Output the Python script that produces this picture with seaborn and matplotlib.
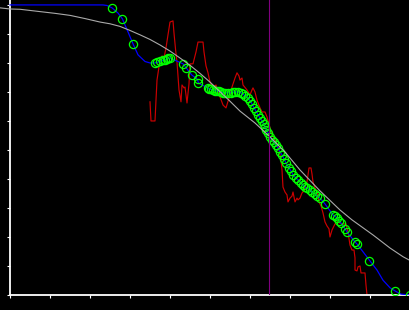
import matplotlib
matplotlib.use("Agg")
import matplotlib.pyplot as plt
import seaborn as sns

# ---- data (x in 0..100, y in percent) ----
gray_x = [-2.5, 0, 2.5, 7.5, 11.25, 15, 18.75, 22.5, 25, 27.5, 30, 32.5, 35, 37.5,
          40, 42.5, 45, 47.5, 50, 52.5, 55, 57.5, 61.25,
          65, 68.75, 72.5, 77.5, 82.5, 85.5, 90.75, 95, 98.25, 100]
gray_y = [99.0, 98.6, 98.5, 97.7, 97.1, 96.4, 95.3, 94.1, 93.5, 92.6, 91.2, 89.7, 88.1, 86.2,
          84.1, 81.7, 79.2, 76.4, 73.4, 70.1, 66.8, 63.4, 59.3,
          54.5, 49.3, 43.1, 35.9, 29.3, 25.9, 20.7, 16.2, 13.2, 11.9]

pt_x = [25.5, 28.1, 30.75, 36.25, 36.75, 37.5, 38.25, 38.75, 39.25, 39.6, 40.0,
        43.25, 44.0, 45.4, 46.9, 47.1, 49.4, 49.75, 50.25, 50.75, 51.25, 51.75,
        52.25, 52.75, 53.25, 53.75, 54.5, 55.25, 55.75, 56.25, 57.0, 57.75, 58.25,
        58.75, 59.5, 60.0, 60.5, 61.0, 61.5, 62.0, 62.5, 63.0, 63.4, 63.75, 64.1,
        64.5, 65.0, 65.5, 66.0, 66.5, 67.0, 67.5, 68.0, 68.5, 69.0, 69.75, 70.25,
        70.75, 71.5, 72.0, 72.75, 73.25, 73.75, 74.25, 75.0, 75.5, 76.25, 76.75,
        77.5, 78.75, 80.75, 81.25, 81.75, 82.25, 82.75, 83.75, 84.25, 86.25, 86.75,
        89.75, 96.25, 100.0]
pt_y = [99.0, 95.2, 86.6, 80.0, 80.2, 80.5, 80.9, 81.0, 81.4, 81.6, 81.7,
        79.7, 78.4, 75.9, 74.3, 73.1, 71.4, 71.0, 70.9, 70.7, 70.5, 70.3,
        70.2, 70.0, 69.8, 69.7, 69.7, 69.8, 70.0, 70.0, 70.0, 69.7, 69.3,
        68.6, 67.9, 66.9, 65.9, 64.5, 63.4, 62.1, 61.0, 60.0, 59.0, 57.9, 56.9,
        55.9, 54.5, 53.4, 52.8, 51.7, 50.7, 49.3, 48.3, 46.9, 45.5, 43.8, 42.8,
        41.4, 40.3, 39.7, 38.6, 37.9, 37.2, 36.9, 36.2, 35.5, 34.8, 34.1,
        33.4, 31.4, 27.6, 27.1, 26.6, 25.5, 24.8, 22.8, 21.7, 18.3, 17.6,
        11.6, 1.4, 0.0]

blue_head_x = [0, 23.25, 24.25, 25.5, 27.0, 28.1, 29.5, 30.75, 32.0, 33.75, 35.0]
blue_head_y = [100, 100, 99.8, 99.0, 97.2, 95.2, 90.7, 86.6, 82.8, 80.5, 80.0]
blue_tail_x = [91.75, 93.25, 95.0, 96.25, 97.75, 100.0]
blue_tail_y = [8.6, 5.1, 2.5, 1.4, 0.3, 0.0]

red_x = [35, 35.25, 36.25, 36.5, 36.75, 37.5, 38, 38.5, 39, 39.5, 40, 40.75, 41,
         41.4, 41.75, 42.25, 42.75, 43, 43.5, 43.75, 44.25, 44.75, 45, 45.75,
         46.5, 47, 48.25, 48.5, 49, 49.5, 50, 50.75, 51.5, 52, 52.5, 53.25, 54,
         54.75, 55.5, 56.25, 56.75, 57.25, 57.5, 58, 58.25, 59.25, 60, 60.5,
         60.75, 61.25, 61.75, 62.5, 63, 63.75, 64.25, 65, 65.75, 66.5, 67.25,
         67.75, 68, 68.25, 68.75, 69.25, 69.5, 70, 70.5, 70.75, 71.25, 71.75,
         72, 72.5, 73, 73.25, 73.75, 74.25, 74.75, 75.25, 75.5, 75.75, 76.25,
         76.75, 77, 77.25, 77.75, 78.25, 78.75, 79.25, 79.75, 80, 80.5, 80.75,
         81.25, 81.75, 82.5, 83.25, 84, 84.5, 85, 85.5, 86, 86.25, 86.25, 86.75,
         87, 87.5, 87.75, 88.75, 89, 89.25]
red_y = [66.6, 60.0, 60.0, 67.2, 74.1, 81.0, 82.4, 81.7, 85.2, 89.7, 94.1, 94.5, 90.3,
         84.5, 80.3, 70.7, 66.6, 72.4, 71.4, 71.7, 66.2, 72.8, 79.7, 79.7,
         83.8, 87.2, 87.2, 83.8, 79.0, 76.6, 73.4, 71.7, 72.4, 70.0, 68.3, 65.5, 64.5,
         67.9, 71.7, 74.8, 76.6, 75.5, 74.1, 74.8, 72.4, 70.7, 69.0, 70.7,
         71.4, 70.0, 67.2, 64.5, 63.1, 63.1, 61.4, 57.6, 54.8, 52.8, 50.0,
         46.6, 43.1, 37.2, 35.5, 34.5, 32.1, 33.4, 34.1, 35.5, 32.1, 33.4,
         32.8, 33.4, 35.2, 35.5, 37.2, 39.0, 43.8, 43.8, 41.7, 39.0, 36.9,
         35.5, 34.5, 32.1, 30.7, 28.3, 25.2, 23.8, 22.8, 20.0, 22.4, 23.1,
         24.5, 25.2, 24.8, 24.5, 24.5, 21.7, 17.2, 15.5, 15.5, 12.8, 8.6, 8.3,
         9.7, 10.0, 7.6, 7.6, 3.4, 0.0]

vline_x = 64.75
x_ticks = [0, 10, 20, 30, 40, 50, 60, 70, 80, 90, 100]
y_ticks = [0, 10, 20, 30, 40, 50, 60, 70, 80, 90, 100]

# ---- figure ----
fig = plt.figure(figsize=(4.1, 3.1), dpi=100, facecolor="black")
ax = fig.add_axes([0, 15 / 310, 1, 295 / 310])
ax.set_facecolor("black")

sns.lineplot(x=red_x, y=red_y, ax=ax, sort=False, estimator=None,
             color="#cc0000", linewidth=0.85, zorder=2)
sns.lineplot(x=blue_head_x + pt_x[3:-3] + blue_tail_x,
             y=blue_head_y + pt_y[3:-3] + blue_tail_y,
             ax=ax, sort=False, estimator=None, color="#0000ff", linewidth=0.9, zorder=3)
sns.lineplot(x=pt_x, y=pt_y, ax=ax, sort=False, estimator=None, linestyle="none",
             marker="o", markersize=5.9, markerfacecolor="none",
             markeredgecolor="#00ff00", markeredgewidth=0.9, zorder=4)
sns.lineplot(x=gray_x, y=gray_y, ax=ax, sort=False, estimator=None,
             color="#aaaaaa", linewidth=0.8, zorder=5)
ax.axvline(vline_x, color="#800080", linewidth=0.8, zorder=6)

ax.set_xlim(-2.5, 100)
ax.set_ylim(0, 101.7)
ax.set_xticks(x_ticks)
ax.set_yticks(y_ticks)
ax.set_xticklabels([])
ax.set_yticklabels([])
ax.set_xlabel("")
ax.set_ylabel("")
ax.tick_params(colors="white", direction="out", length=2.5, width=0.8)

for s in ["top", "right"]:
    ax.spines[s].set_visible(False)
ax.spines["left"].set_position(("data", 0))
ax.spines["bottom"].set_bounds(0, 100)
for s in ["left", "bottom"]:
    ax.spines[s].set_color("white")
    ax.spines[s].set_linewidth(1.3)

fig.savefig("out.png", dpi=100, facecolor="black")
